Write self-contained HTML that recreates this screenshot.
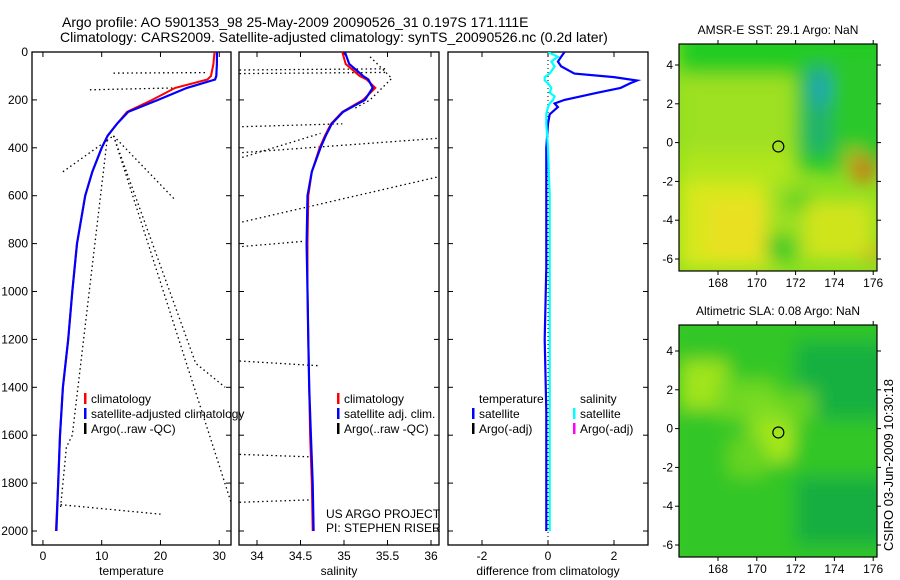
<!DOCTYPE html>
<html><head><meta charset="utf-8"><style>
html,body{margin:0;padding:0;background:#fff;width:900px;height:580px;overflow:hidden}
svg text{font-family:"Liberation Sans",sans-serif;fill:#000}
</style></head><body>
<svg id="fig" width="900" height="580" xmlns="http://www.w3.org/2000/svg">
<text x="62" y="27" font-size="14">Argo profile: AO 5901353_98 25-May-2009 20090526_31 0.197S 171.111E</text>
<text x="60" y="42" font-size="14">Climatology: CARS2009. Satellite-adjusted climatology: synTS_20090526.nc (0.2d later)</text>
<g id="maps"></g>
<g id="plots"></g>
<text transform="translate(893,465) rotate(-90)" text-anchor="middle" font-size="13">CSIRO 03-Jun-2009 10:30:18</text>
</svg>
<script>
// ---- data ----
const depthTicks=[0,200,400,600,800,1000,1200,1400,1600,1800,2000];
const tempTicks=[0,10,20,30];
const salTicks=[34,34.5,35,35.5,36];
const salTickLabels=["34","34.5","35","35.5","36"];
const diffTicks=[-2,0,2];
const depths=[0,50,100,115,150,200,250,300,350,400,500,600,800,1000,1200,1400,1600,1800,2000];
const tempClim=[29.2,29.0,28.6,28.0,22.5,18.6,14.3,12.6,11.0,10.0,8.4,7.2,5.8,5.0,4.3,3.4,2.9,2.6,2.2];
const tempSat=[29.6,29.6,29.5,29.3,24.5,19.6,14.5,12.6,11.0,10.0,8.4,7.2,5.8,5.0,4.3,3.4,2.9,2.6,2.3];
const salClim=[34.98,35.02,35.18,35.26,35.36,35.22,34.98,34.85,34.78,34.72,34.63,34.59,34.58,34.58,34.59,34.60,34.61,34.63,34.64];
const salSat=[35.01,35.06,35.22,35.28,35.33,35.24,34.99,34.86,34.79,34.73,34.63,34.58,34.57,34.58,34.59,34.60,34.62,34.64,34.65];
const diffDepths=[0,20,40,60,90,105,119,130,150,170,185,200,215,230,260,300,400,600,900,1200,1500,1800,2000];
const diffTemp=[0.5,0.4,0.3,0.4,0.8,2.0,2.7,2.5,2.2,1.5,1.0,0.5,0.2,0.3,0.05,0.0,-0.05,-0.05,-0.05,-0.1,-0.05,-0.05,-0.05];
const diffSal=[0.0,0.3,0.1,0.2,0.05,-0.1,-0.1,0.0,0.1,0.05,0.2,0.15,0.05,0.0,-0.05,-0.05,0.0,0.05,0.05,0.05,0.05,0.05,0.05];
// Argo raw segments (null separates segments)
const argoTempD=[88,86,null,158,150,null,500,350,null,350,618,null,350,1300,1400,null,350,1880,null,350,1600,1650,1900,null,1890,1930];
const argoTempV=[12,28,null,8,22.8,null,3.4,12,null,12,22.5,null,12,26,31,null,12,32,null,11,5,4,3,null,3,20];
const argoSalD=[75,70,null,90,85,null,312,300,null,420,360,null,440,340,null,710,520,null,812,790,null,1290,1310,null,1680,1690,null,1880,1870,null,20,110,200,240];
const argoSalV=[33.8,35.5,null,33.8,35.5,null,33.83,34.98,null,33.83,36.1,null,33.83,34.73,null,33.83,36.1,null,33.83,34.55,null,33.8,34.7,null,33.8,34.6,null,33.8,34.6,null,35.3,35.55,35.3,35.1];
const mapLon=[168,170,172,174,176];
const mapLat=[4,2,0,-2,-4,-6];
const floatLon=171.11, floatLat=-0.2;

const NS="http://www.w3.org/2000/svg";
function mk(tag,attrs,parent){const e=document.createElementNS(NS,tag);for(const k in attrs)e.setAttribute(k,attrs[k]);parent.appendChild(e);return e;}
const plots=document.getElementById('plots');
const yD=d=>52+d*0.2395;
function panel(name,x0,x1,vmin,vmax,ticks,labels,xlabel,leftLabels){
  const g=mk('g',{},plots);
  
  
  const sx=v=>x0+(v-vmin)/(vmax-vmin)*(x1-x0);
  const box=mk('rect',{x:x0,y:52,width:x1-x0,height:493,fill:'none',stroke:'#000','stroke-width':1.3},g);
  
  
  depthTicks.forEach(d=>{
    mk('line',{x1:x0,x2:x0+5,y1:yD(d),y2:yD(d),stroke:'#000'},g);
    mk('line',{x1:x1,x2:x1-5,y1:yD(d),y2:yD(d),stroke:'#000'},g);
    if(leftLabels){const t=mk('text',{x:x0-4,y:yD(d)+4,'text-anchor':'end','font-size':12},g);t.textContent=d;
      
      }
  });
  ticks.forEach((v,i)=>{
    mk('line',{x1:sx(v),x2:sx(v),y1:545,y2:540,stroke:'#000'},g);
    mk('line',{x1:sx(v),x2:sx(v),y1:52,y2:57,stroke:'#000'},g);
    const t=mk('text',{x:sx(v),y:560,'text-anchor':'middle','font-size':12},g);t.textContent=labels[i];
    
    
  });
  const xl=mk('text',{x:(x0+x1)/2,y:575,'text-anchor':'middle','font-size':12},g);xl.textContent=xlabel;
  
  
  const cid='clip'+name;const cp=mk('clipPath',{id:cid},g);mk('rect',{x:x0,y:52,width:x1-x0,height:493},cp);
  const inner=mk('g',{'clip-path':'url(#'+cid+')'},g);
  return {g,inner,sx};
}
function line(p,ds,vs,color,w,dash,name){
  let d='',pen=false;
  ds.forEach((dv,i)=>{
    if(dv===null||vs[i]===null){pen=false;return;}
    d+=(pen?'L':'M')+p.sx(vs[i]).toFixed(1)+','+yD(dv).toFixed(1);pen=true;
  });
  const l=mk('path',{d:d,fill:'none',stroke:color,'stroke-width':w},p.inner);
  if(dash)l.setAttribute('stroke-dasharray',dash);
  
  
}
function legend(g,x,y,items){
  items.forEach((it,i)=>{
    mk('rect',{x:x,y:y+i*15-10,width:2.5,height:11,fill:it[1]},g);
    const t=mk('text',{x:x+7,y:y+i*15,'font-size':12},g);t.textContent=it[0];
    
    
  });
}
// temperature
const p1=panel('temperature-panel',32,231,-1.86,32,tempTicks,tempTicks.map(String),'temperature',true);
line(p1,argoTempD,argoTempV,'#000',1.3,'1.5,3','argo-temperature-line');
line(p1,depths,tempClim,'#f00',2,null,'climatology-temperature-line');
line(p1,depths,tempSat,'#00f',2.2,null,'satellite-temperature-line');
legend(p1.g,84,403,[['climatology','#f00'],['satellite-adjusted climatology','#00f'],['Argo(..raw -QC)','#000']]);
// salinity
const p2=panel('salinity-panel',239,439,33.793,36.092,salTicks,salTickLabels,'salinity',false);
line(p2,argoSalD,argoSalV,'#000',1.3,'1.5,3','argo-salinity-line');
line(p2,depths,salClim,'#f00',2,null,'climatology-salinity-line');
line(p2,depths,salSat,'#00f',2.2,null,'satellite-salinity-line');
legend(p2.g,337,403,[['climatology','#f00'],['satellite adj. clim.','#00f'],['Argo(..raw -QC)','#000']]);
const us=mk('text',{x:326,y:518,'font-size':12},p2.g);us.textContent='US ARGO PROJECT';


const pi=mk('text',{x:326,y:532,'font-size':12},p2.g);pi.textContent='PI: STEPHEN RISER';


// difference
const p3=panel('difference-panel',448,648,-3.03,3.03,diffTicks,diffTicks.map(String),'difference from climatology',false);
mk('line',{x1:p3.sx(0),x2:p3.sx(0),y1:52,y2:545,stroke:'#000','stroke-dasharray':'1,3'},p3.inner);
line(p3,diffDepths,diffTemp,'#00f',2.2,null,'temperature-difference-line');
line(p3,diffDepths,diffSal,'#0ff',2.2,null,'salinity-difference-line');
legend(p3.g,472,403,[['temperature','rgba(0,0,0,0)'],['satellite','#00f'],['Argo(-adj)','#000']]);
legend(p3.g,573,403,[['salinity','rgba(0,0,0,0)'],['satellite','#0ff'],['Argo(-adj)','#f0f']]);

// ---- maps ----
const maps=document.getElementById('maps');
function map(name,title,y0,y1,blobs,base){
  const x0=679,x1=877;
  const g=mk('g',{},maps);
  
  
  const lx=v=>718+(v-168)*19.4;
  const ly=v=>y1-12-(v+6)*19.4;
  const cid='c'+name;const cp=mk('clipPath',{id:cid},g);mk('rect',{x:x0,y:y0,width:x1-x0,height:y1-y0},cp);
  const ig=mk('g',{'clip-path':'url(#'+cid+')'},g);
  mk('rect',{x:x0,y:y0,width:x1-x0,height:y1-y0,fill:base},ig);
  const fid='f'+name;const f=mk('filter',{id:fid,filterUnits:'userSpaceOnUse',x:x0-60,y:y0-60,width:x1-x0+120,height:y1-y0+120},g);mk('feGaussianBlur',{stdDeviation:9},f);
  const bg=mk('g',{filter:'url(#'+fid+')'},ig);
  blobs.forEach(b=>mk('rect',{x:lx(b[0]),y:ly(b[1]),width:b[2]*19.4,height:b[3]*19.4,fill:b[4]},bg));
  const r=mk('rect',{x:x0,y:y0,width:x1-x0,height:y1-y0,fill:'none',stroke:'#000','stroke-width':1.2},g);
  
  
  const c=mk('circle',{cx:lx(floatLon),cy:ly(floatLat),r:5.5,fill:'none',stroke:'#000','stroke-width':1.2},g);
  
  
  mapLon.forEach(v=>{mk('line',{x1:lx(v),x2:lx(v),y1:y1,y2:y1+4,stroke:'#000'},g);mk('line',{x1:lx(v),x2:lx(v),y1:y0,y2:y0-4,stroke:'#000'},g);
    const t=mk('text',{x:lx(v),y:y1+16,'text-anchor':'middle','font-size':12},g);t.textContent=v;
    
    });
  mapLat.forEach(v=>{mk('line',{x1:x0,x2:x0-4,y1:ly(v),y2:ly(v),stroke:'#000'},g);mk('line',{x1:x1,x2:x1+4,y1:ly(v),y2:ly(v),stroke:'#000'},g);
    const t=mk('text',{x:x0-6,y:ly(v)+4,'text-anchor':'end','font-size':12},g);t.textContent=v;
    
    });
  const tt=mk('text',{x:778,y:y0-10,'text-anchor':'middle','font-size':12},g);tt.textContent=title;
  
  
}
map('sst-map','AMSR-E SST: 29.1 Argo: NaN',44,271,[
 [166,7,12,4,'#22cc22'],[166,3.5,6.5,4,'#9ee020'],[166,-0.5,6,3,'#b0e61c'],
 [166,-2,5,4.5,'#d8e81a'],[167.5,-3,3,3,'#eae020'],[170.5,-2,2.5,4,'#9ee020'],
 [172,4.5,5,6,'#2cc82a'],[172.5,4,1.3,4.5,'#22b070'],[173,3.5,0.6,1.5,'#1a9ed0'],[174.5,-0.3,1,1.2,'#a8c020'],[175,-0.8,1,1.2,'#d06818'],
 [171.5,-2.5,1.5,1,'#50d020'],[170.5,-4.8,1.5,1.3,'#30c828'],[172.5,-3,3.5,3,'#d0e41c'],[175.5,-5.5,1,0.5,'#e8a020']
],'#8ce020');
map('sla-map','Altimetric SLA: 0.08 Argo: NaN',325,557,[
 [166,6,11,13,'#30c628'],[172,4.5,5,4,'#14b040'],[172,-2.5,5,3.5,'#14ae40'],
 [166,3.5,2.5,2.5,'#a0e41c'],[168,2.5,3,2,'#70d820'],[169.5,1.5,2.5,2.5,'#80dc20'],[170,0.3,1.8,2,'#a8e81c'],[168.5,-0.5,2,2,'#66d420'],[171.5,2,1.5,1.5,'#66d420']
],'#38c826');
</script>
</body></html>
